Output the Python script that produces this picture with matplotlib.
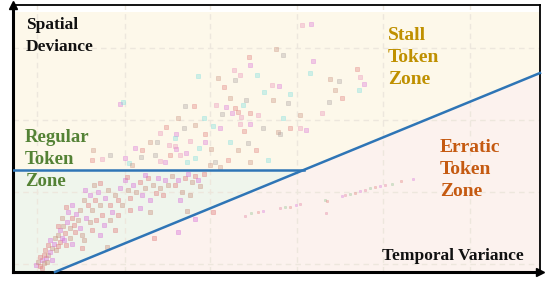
import matplotlib
matplotlib.use("Agg")
import matplotlib.pyplot as plt
from matplotlib.patches import Polygon

# zone boundaries (axis units: temporal variance 0..527, spatial deviance 0..267)
x_max, y_max = 527, 267
regular_limit = 102                 # horizontal boundary of regular zone
diag_start, diag_end = (42, 0), (527, 199)

# scattered tokens above the regular zone
upper_x = [289, 298, 185, 205, 222, 211, 227, 237, 244, 217, 233, 222, 259, 107, 110,
           263, 270, 236, 221, 300, 297, 317, 326, 344, 347, 351, 346, 322, 316, 329,
           309, 266, 277, 260, 275, 237, 228, 219, 251, 287,
           172, 181, 203, 213, 191, 165, 209, 225, 245, 237, 270, 265, 250, 231, 227,
           207, 200, 182, 171, 153, 147, 163, 162, 137, 144, 192, 177, 192, 217, 225,
           235, 243, 156, 163, 186, 198, 142, 157, 167, 173, 182, 197, 202, 215, 147,
           152, 174, 207, 267, 277, 287, 293, 230, 80, 97, 79, 89, 112, 116, 119,
           128, 129, 162, 122, 255, 237]
upper_y = [247, 248, 196, 194, 192, 185, 197, 207, 197, 174, 172, 164, 187, 168, 170,
           223, 217, 215, 202, 211, 199, 193, 191, 203, 195, 188, 182, 182, 170, 174,
           159, 186, 178, 172, 169, 159, 155, 159, 180, 157,
           166, 166, 167, 165, 154, 154, 158, 160, 157, 148, 154, 140, 144, 141, 148,
           144, 146, 147, 144, 145, 139, 138, 134, 130, 130, 138, 131, 130, 130, 122,
           129, 122, 127, 123, 124, 123, 117, 117, 117, 119, 114, 107, 110, 112, 111,
           110, 110, 105, 138, 144, 144, 142, 167, 122, 117, 112, 113, 114, 109, 107,
           115, 122, 126, 124, 112, 110]

# dense cluster of regular tokens
regular_x = [23, 25, 27, 29, 31, 27, 33, 35, 32, 37, 39, 35, 41, 43, 45, 37, 42, 47, 49, 45,
             31, 39, 34, 29, 47, 50, 52, 54, 57, 59, 55, 49, 61, 63, 65, 53, 59, 67, 45, 51,
             57, 62, 67, 69, 53, 59, 71, 75, 77, 79, 82, 85, 87, 89, 92, 95, 97, 99, 102, 105,
             73, 77, 83, 91, 97, 105, 72, 81, 87, 107, 109, 79, 87, 71, 102, 112, 115, 117, 120, 123,
             127, 129, 132, 135, 137, 140, 143, 145, 147, 150, 152, 155, 117, 127, 137, 114, 132, 159, 162, 165,
             169, 172, 175, 179, 182, 185, 187, 191, 167, 177, 141, 165, 174, 200, 182, 94, 69]
regular_y = [7, 10, 6, 12, 9, 15, 14, 17, 22, 20, 24, 27, 28, 22, 26, 32, 34, 30, 34, 37,
             17, 12, 10, 4, 42, 46, 39, 50, 44, 54, 60, 54, 47, 58, 52, 65, 67, 62, 46, 32,
             34, 40, 44, 37, 27, 28, 72, 67, 77, 62, 72, 80, 67, 57, 74, 82, 67, 60, 77, 72,
             54, 50, 52, 47, 52, 57, 82, 87, 89, 84, 67, 42, 37, 32, 42, 92, 82, 74, 87, 80,
             90, 77, 84, 94, 72, 87, 79, 94, 84, 77, 92, 87, 62, 64, 60, 95, 97, 96, 87, 92,
             80, 94, 98, 90, 96, 92, 86, 98, 72, 77, 34, 40, 61, 60, 53, 25, 24]

# erratic tokens
erratic_x = [232, 238, 245, 250, 267, 272, 277, 283, 287, 312, 314, 329, 332, 337, 342,
             347, 352, 357, 362, 367, 372, 379, 388, 400, 313]
erratic_y = [56, 59, 60, 61, 64, 65, 65, 67, 68, 72, 71, 76, 77, 78, 79,
             81, 82, 84, 85, 86, 87, 88, 91, 93, 59]

grid_x = [24, 112, 197, 284, 370, 457]
grid_y = [8, 80, 152, 224]

dot_colors = ['#e88fb8', '#d86fd8', '#78dede', '#c8907e', '#a8a0a0', '#e07a7a']
erratic_colors = ['#e07a9a', '#8cc08c', '#e07a7a', '#d86fd8']

fig = plt.figure(figsize=(5.48, 2.88), dpi=100)
ax = fig.add_axes([13 / 548, 16 / 288, 527 / 548, 267 / 288])
ax.set_xlim(0, x_max)
ax.set_ylim(0, y_max)

# zone backgrounds
ax.add_patch(Polygon([(0, 0), (x_max, 0), (x_max, 260), (0, 260)],
                     closed=True, fc='#fdf8ea', ec='none', zorder=0))
slope = (diag_end[1] - diag_start[1]) / (diag_end[0] - diag_start[0])
cross_x = diag_start[0] + regular_limit / slope
ax.add_patch(Polygon([(0, 0), diag_start, (cross_x, regular_limit), (0, regular_limit)],
                     closed=True, fc='#eff5ec', ec='none', zorder=0))
ax.add_patch(Polygon([diag_start, (x_max, 0), diag_end],
                     closed=True, fc='#fcf2ee', ec='none', zorder=0))

# faint dashed grid
for gx in grid_x:
    ax.axvline(gx, color='#ede7dd', lw=1.0, ls=(0, (4, 3)), zorder=1)
for gy in grid_y:
    ax.axhline(gy, color='#ede7dd', lw=1.0, ls=(0, (4, 3)), zorder=1)

# tokens
cols = [dot_colors[i % len(dot_colors)] for i in range(len(upper_x))]
ax.scatter(upper_x, upper_y, s=6, marker='s', c=cols, alpha=0.35, lw=0.6, zorder=2)
cols = [dot_colors[(i * 2 + 1) % len(dot_colors)] for i in range(len(regular_x))]
ax.scatter(regular_x, regular_y, s=6, marker='s', c=cols, alpha=0.4, lw=0.6, zorder=2)
cols = [erratic_colors[i % len(erratic_colors)] for i in range(len(erratic_x))]
ax.scatter(erratic_x, erratic_y, s=4, marker='s', c=cols, alpha=0.35, lw=0.5, zorder=2)

# zone boundaries
ax.plot([0, cross_x], [regular_limit, regular_limit], color='#2e75b6', lw=1.8, zorder=3)
ax.plot([diag_start[0], diag_end[0]], [diag_start[1], diag_end[1]], color='#2e75b6', lw=1.8,
        zorder=3, clip_on=False)

# frame and axis arrows
for side in ['top', 'right']:
    ax.spines[side].set_linewidth(1.3)
for side in ['left', 'bottom']:
    ax.spines[side].set_linewidth(2.2)
ax.plot([0], [y_max], marker='^', color='black', ms=6, clip_on=False, zorder=5)
ax.plot([x_max], [0], marker='>', color='black', ms=6, clip_on=False, zorder=5)
ax.set_xticks([])
ax.set_yticks([])

serif = 'Liberation Serif'
ax.text(13, 255, 'Spatial\nDeviance', fontsize=12.5, fontweight='bold', family=serif,
        color='#111111', va='top', ha='left', linespacing=1.5)
ax.text(12, 143, 'Regular\nToken\nZone', fontsize=13.5, fontweight='bold', family=serif,
        color='#548235', va='top', ha='left', linespacing=1.4)
ax.text(375, 245, 'Stall\nToken\nZone', fontsize=14, fontweight='bold', family=serif,
        color='#bf9000', va='top', ha='left', linespacing=1.4)
ax.text(427, 133, 'Erratic\nToken\nZone', fontsize=14, fontweight='bold', family=serif,
        color='#c55a11', va='top', ha='left', linespacing=1.4)
ax.text(511, 16, 'Temporal Variance', fontsize=12.5, fontweight='bold', family=serif,
        color='#111111', va='center', ha='right')

fig.savefig('out.png', dpi=100)
